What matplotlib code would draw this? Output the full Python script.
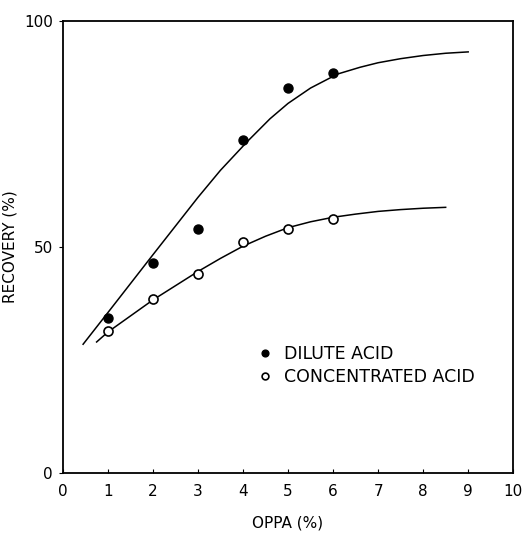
# libraries
import numpy as np
import matplotlib
matplotlib.use('Agg')
import matplotlib.pyplot as plt

# measured points
oppa = [1, 2, 3, 4, 5, 6]
dilute = [34.3, 46.5, 53.9, 73.7, 85.3, 88.6]
concentrated = [31.5, 38.6, 44.1, 51.2, 54.1, 56.3]

# hand drawn curves
dilute_curve_x = [0.45, 1.0, 2.0, 3.0, 3.5, 4.1, 4.6, 5.0, 5.5, 6.1, 6.6, 7.0, 7.5, 8.0, 8.5, 9.0]
dilute_curve_y = [28.5, 35.5, 48.3, 61.0, 67.0, 73.4, 78.4, 81.8, 85.2, 88.3, 89.8, 90.8, 91.7, 92.4, 92.9, 93.2]
conc_curve_x = [0.75, 1.0, 2.0, 3.0, 3.5, 4.0, 4.5, 5.0, 5.5, 6.0, 6.5, 7.0, 7.5, 8.0, 8.5]
conc_curve_y = [29.0, 31.2, 38.3, 44.6, 47.5, 50.2, 52.4, 54.3, 55.6, 56.6, 57.3, 57.9, 58.3, 58.6, 58.8]

xticks = list(range(0, 11))
yticks = [0, 50, 100]

fig = plt.figure(figsize=(5.28, 5.36), dpi=100)
ax = fig.add_axes([0.119, 0.1175, 0.853, 0.843])

# curves
ax.plot(dilute_curve_x, dilute_curve_y, color='black', lw=1.1)
ax.plot(conc_curve_x, conc_curve_y, color='black', lw=1.1)

# points
ax.plot(oppa, dilute, 'o', color='black', ms=6.5, ls='none', label='DILUTE ACID')
ax.plot(oppa, concentrated, 'o', mfc='white', mec='black', mew=1.2, ms=6.5,
        ls='none', label='CONCENTRATED ACID')

ax.set_xlim(0, 10)
ax.set_ylim(0, 100)
ax.set_xticks(xticks)
ax.set_yticks(yticks)
ax.tick_params(axis='x', direction='in', length=3, labelsize=11, pad=8)
ax.tick_params(axis='y', direction='out', length=3, labelsize=11, pad=4)
for s in ax.spines.values():
    s.set_linewidth(1.3)

ax.set_xlabel('OPPA (%)', fontsize=11, labelpad=12)
ax.set_ylabel('RECOVERY (%)', fontsize=11)
ax.yaxis.set_label_coords(-0.1, 0.5)

ax.legend(loc='upper left', bbox_to_anchor=(0.417, 0.298), frameon=False,
          fontsize=12.5, markerscale=0.75, handletextpad=0.75, labelspacing=0.25,
          handlelength=0.8, borderaxespad=0)

plt.savefig('out.png', dpi=100)
